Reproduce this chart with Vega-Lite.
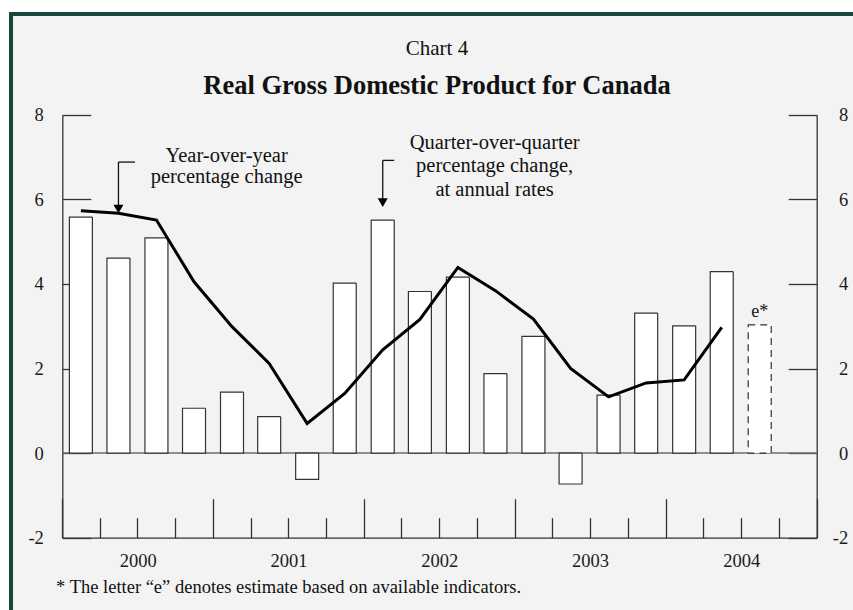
{
  "$schema": "https://vega.github.io/schema/vega-lite/v6.json",
  "width": 852,
  "height": 606,
  "autosize": {"type": "none"},
  "padding": {"left": 11, "top": 14, "right": -10, "bottom": -10},
  "background": "white",
  "config": {
    "view": {"fill": "#f2f3f2", "stroke": "#17463e", "strokeWidth": 4},
    "font": "Liberation Serif",
    "axis": {
      "grid": false,
      "labelFont": "Liberation Serif",
      "labelFontSize": 18.5,
      "labelColor": "#1a1a1a",
      "domainColor": "#333333",
      "domainWidth": 1.3,
      "tickColor": "#333333",
      "tickWidth": 1.3,
      "labelFlush": false,
      "labelOverlap": false
    }
  },
  "title": {
    "text": "Chart 4",
    "subtitle": "Real Gross Domestic Product for Canada",
    "orient": "top",
    "anchor": "middle",
    "frame": "group",
    "offset": -85,
    "font": "Liberation Serif",
    "fontSize": 21,
    "fontWeight": "normal",
    "color": "#111111",
    "subtitleFont": "Liberation Serif",
    "subtitleFontSize": 26.5,
    "subtitleFontWeight": "bold",
    "subtitleColor": "#111111",
    "subtitlePadding": 14
  },
  "data": {
    "values": [
      {"quarter": "2000-02-15", "qoq": 5.58, "yoy": 5.73, "status": "actual"},
      {"quarter": "2000-05-16", "qoq": 4.61, "yoy": 5.67, "status": "actual"},
      {"quarter": "2000-08-16", "qoq": 5.09, "yoy": 5.51, "status": "actual"},
      {"quarter": "2000-11-15", "qoq": 1.06, "yoy": 4.05, "status": "actual"},
      {"quarter": "2001-02-15", "qoq": 1.44, "yoy": 2.99, "status": "actual"},
      {"quarter": "2001-05-16", "qoq": 0.86, "yoy": 2.12, "status": "actual"},
      {"quarter": "2001-08-16", "qoq": -0.62, "yoy": 0.70, "status": "actual"},
      {"quarter": "2001-11-15", "qoq": 4.02, "yoy": 1.41, "status": "actual"},
      {"quarter": "2002-02-15", "qoq": 5.51, "yoy": 2.44, "status": "actual"},
      {"quarter": "2002-05-16", "qoq": 3.82, "yoy": 3.16, "status": "actual"},
      {"quarter": "2002-08-16", "qoq": 4.16, "yoy": 4.39, "status": "actual"},
      {"quarter": "2002-11-15", "qoq": 1.88, "yoy": 3.84, "status": "actual"},
      {"quarter": "2003-02-15", "qoq": 2.76, "yoy": 3.17, "status": "actual"},
      {"quarter": "2003-05-16", "qoq": -0.73, "yoy": 2.00, "status": "actual"},
      {"quarter": "2003-08-16", "qoq": 1.37, "yoy": 1.33, "status": "actual"},
      {"quarter": "2003-11-15", "qoq": 3.31, "yoy": 1.66, "status": "actual"},
      {"quarter": "2004-02-15", "qoq": 3.01, "yoy": 1.73, "status": "actual"},
      {"quarter": "2004-05-16", "qoq": 4.29, "yoy": 2.97, "status": "actual"},
      {"quarter": "2004-08-16", "qoq": 3.03, "yoy": null, "status": "estimate"}
    ]
  },
  "layer": [
    {
      "data": {"values": [{}]},
      "mark": {"type": "rule", "color": "#6e6e6e", "strokeWidth": 1.5},
      "encoding": {
        "x": {"datum": {"year": 2000, "month": 1, "date": 1, "utc": true}, "type": "temporal", "scale": {"type": "utc"}, "axis": null},
        "x2": {"datum": {"year": 2005, "month": 1, "date": 1, "utc": true}},
        "y": {"datum": 0, "type": "quantitative", "axis": null}
      }
    },
    {
      "mark": {"type": "bar", "size": 23, "fill": "white", "stroke": "#333333", "strokeWidth": 1.2},
      "encoding": {
        "x": {
          "field": "quarter",
          "type": "temporal",
          "scale": {
            "type": "utc",
            "domain": [{"year": 2000, "month": 1, "date": 1, "utc": true}, {"year": 2005, "month": 1, "date": 1, "utc": true}],
            "range": [51.3, 805.7],
            "padding": 0,
            "nice": false
          },
          "axis": {
            "orient": "bottom",
            "offset": -82.3,
            "title": null,
            "labels": false,
            "values": [
              {"year": 2000, "month": 1, "date": 1, "utc": true}, {"year": 2000, "month": 4, "date": 1, "utc": true}, {"year": 2000, "month": 7, "date": 1, "utc": true}, {"year": 2000, "month": 10, "date": 1, "utc": true},
              {"year": 2001, "month": 1, "date": 1, "utc": true}, {"year": 2001, "month": 4, "date": 1, "utc": true}, {"year": 2001, "month": 7, "date": 1, "utc": true}, {"year": 2001, "month": 10, "date": 1, "utc": true},
              {"year": 2002, "month": 1, "date": 1, "utc": true}, {"year": 2002, "month": 4, "date": 1, "utc": true}, {"year": 2002, "month": 7, "date": 1, "utc": true}, {"year": 2002, "month": 10, "date": 1, "utc": true},
              {"year": 2003, "month": 1, "date": 1, "utc": true}, {"year": 2003, "month": 4, "date": 1, "utc": true}, {"year": 2003, "month": 7, "date": 1, "utc": true}, {"year": 2003, "month": 10, "date": 1, "utc": true},
              {"year": 2004, "month": 1, "date": 1, "utc": true}, {"year": 2004, "month": 4, "date": 1, "utc": true}, {"year": 2004, "month": 7, "date": 1, "utc": true}, {"year": 2004, "month": 10, "date": 1, "utc": true},
              {"year": 2005, "month": 1, "date": 1, "utc": true}
            ],
            "tickSize": {"condition": {"test": "utcmonth(datum.value) === 0", "value": -39}, "value": -20}
          }
        },
        "y": {
          "field": "qoq",
          "type": "quantitative",
          "stack": null,
          "scale": {"domain": [-2, 8], "range": [523.7, 100.7], "nice": false, "padding": 0},
          "axis": {
            "orient": "left",
            "offset": -51.3,
            "title": null,
            "values": [-2, 0, 2, 4, 6, 8],
            "labelExpr": "datum.value < 0 ? '-' + (-datum.value) : '' + datum.value",
            "tickSize": -28.5,
            "labelPadding": 47.5
          }
        },
        "strokeDash": {
          "field": "status",
          "type": "nominal",
          "scale": {"domain": ["actual", "estimate"], "range": [[1, 0], [7, 5]]},
          "legend": null
        }
      }
    },
    {
      "mark": {"type": "line", "color": "#000000", "strokeWidth": 3},
      "encoding": {
        "x": {
          "field": "quarter",
          "type": "temporal",
          "scale": {"type": "utc"},
          "axis": {
            "orient": "bottom",
            "offset": -82.3,
            "title": null,
            "ticks": false,
            "domain": false,
            "labelPadding": 14,
            "labelExpr": "utcFormat(datum.value, '%Y')",
            "values": [
              {"year": 2000, "month": 7, "date": 2, "utc": true},
              {"year": 2001, "month": 7, "date": 2, "utc": true},
              {"year": 2002, "month": 7, "date": 2, "utc": true},
              {"year": 2003, "month": 7, "date": 2, "utc": true},
              {"year": 2004, "month": 7, "date": 2, "utc": true}
            ]
          }
        },
        "y": {
          "field": "yoy",
          "type": "quantitative",
          "axis": {
            "orient": "right",
            "offset": -46.3,
            "title": null,
            "values": [-2, 0, 2, 4, 6, 8],
            "labelExpr": "datum.value < 0 ? '-' + (-datum.value) : '' + datum.value",
            "tickSize": -28.5,
            "labelPadding": 59.5,
            "labelAlign": "right"
          }
        }
      }
    },
    {
      "data": {"values": [{}]},
      "mark": {"type": "rule", "color": "#111111", "strokeWidth": 1.3},
      "encoding": {
        "x": {"datum": {"year": 2000, "month": 5, "date": 16, "utc": true}, "type": "temporal", "scale": {"type": "utc"}, "axis": null},
        "x2": {"datum": {"year": 2000, "month": 6, "date": 25, "utc": true}},
        "y": {"datum": 6.88, "type": "quantitative", "axis": null}
      }
    },
    {
      "data": {"values": [{}]},
      "mark": {"type": "rule", "color": "#111111", "strokeWidth": 1.3},
      "encoding": {
        "x": {"datum": {"year": 2000, "month": 5, "date": 16, "utc": true}, "type": "temporal", "scale": {"type": "utc"}, "axis": null},
        "y": {"datum": 6.88, "type": "quantitative", "axis": null},
        "y2": {"datum": 5.84}
      }
    },
    {
      "data": {"values": [{}]},
      "mark": {"type": "point", "shape": "triangle-down", "filled": true, "color": "#000000", "size": 100, "opacity": 1},
      "encoding": {
        "x": {"datum": {"year": 2000, "month": 5, "date": 16, "utc": true}, "type": "temporal", "scale": {"type": "utc"}, "axis": null},
        "y": {"datum": 5.77, "type": "quantitative", "axis": null}
      }
    },
    {
      "data": {"values": [{}]},
      "mark": {"type": "rule", "color": "#111111", "strokeWidth": 1.3},
      "encoding": {
        "x": {"datum": {"year": 2002, "month": 2, "date": 15, "utc": true}, "type": "temporal", "scale": {"type": "utc"}, "axis": null},
        "x2": {"datum": {"year": 2002, "month": 3, "date": 15, "utc": true}},
        "y": {"datum": 6.92, "type": "quantitative", "axis": null}
      }
    },
    {
      "data": {"values": [{}]},
      "mark": {"type": "rule", "color": "#111111", "strokeWidth": 1.3},
      "encoding": {
        "x": {"datum": {"year": 2002, "month": 2, "date": 15, "utc": true}, "type": "temporal", "scale": {"type": "utc"}, "axis": null},
        "y": {"datum": 6.92, "type": "quantitative", "axis": null},
        "y2": {"datum": 6.01}
      }
    },
    {
      "data": {"values": [{}]},
      "mark": {"type": "point", "shape": "triangle-down", "filled": true, "color": "#000000", "size": 100, "opacity": 1},
      "encoding": {
        "x": {"datum": {"year": 2002, "month": 2, "date": 15, "utc": true}, "type": "temporal", "scale": {"type": "utc"}, "axis": null},
        "y": {"datum": 5.92, "type": "quantitative", "axis": null}
      }
    },
    {
      "data": {"values": [{}]},
      "mark": {"type": "text", "text": ["Year-over-year", "percentage change"], "font": "Liberation Serif", "fontSize": 20.5, "lineHeight": 21, "align": "center", "baseline": "top", "color": "#111111"},
      "encoding": {
        "x": {"datum": {"year": 2001, "month": 2, "date": 2, "utc": true}, "type": "temporal", "scale": {"type": "utc"}, "axis": null},
        "y": {"datum": 7.27, "type": "quantitative", "axis": null}
      }
    },
    {
      "data": {"values": [{}]},
      "mark": {"type": "text", "text": ["Quarter-over-quarter", "percentage change,", "at annual rates"], "font": "Liberation Serif", "fontSize": 20.5, "lineHeight": 23.5, "align": "center", "baseline": "top", "color": "#111111"},
      "encoding": {
        "x": {"datum": {"year": 2002, "month": 11, "date": 13, "utc": true}, "type": "temporal", "scale": {"type": "utc"}, "axis": null},
        "y": {"datum": 7.57, "type": "quantitative", "axis": null}
      }
    },
    {
      "data": {"values": [{}]},
      "mark": {"type": "text", "text": "e*", "font": "Liberation Serif", "fontSize": 18, "align": "center", "baseline": "alphabetic", "color": "#111111"},
      "encoding": {
        "x": {"datum": {"year": 2004, "month": 8, "date": 16, "utc": true}, "type": "temporal", "scale": {"type": "utc"}, "axis": null},
        "y": {"datum": 3.22, "type": "quantitative", "axis": null}
      }
    },
    {
      "data": {"values": [{}]},
      "mark": {"type": "text", "text": "* The letter \u201ce\u201d denotes estimate based on available indicators.", "font": "Liberation Serif", "fontSize": 18.5, "align": "left", "baseline": "alphabetic", "color": "#111111"},
      "encoding": {
        "x": {"datum": {"year": 1999, "month": 12, "date": 17, "utc": true}, "type": "temporal", "scale": {"type": "utc"}, "axis": null},
        "y": {"datum": -3.30, "type": "quantitative", "axis": null}
      }
    }
  ],
  "resolve": {"axis": {"x": "independent", "y": "independent"}}
}
